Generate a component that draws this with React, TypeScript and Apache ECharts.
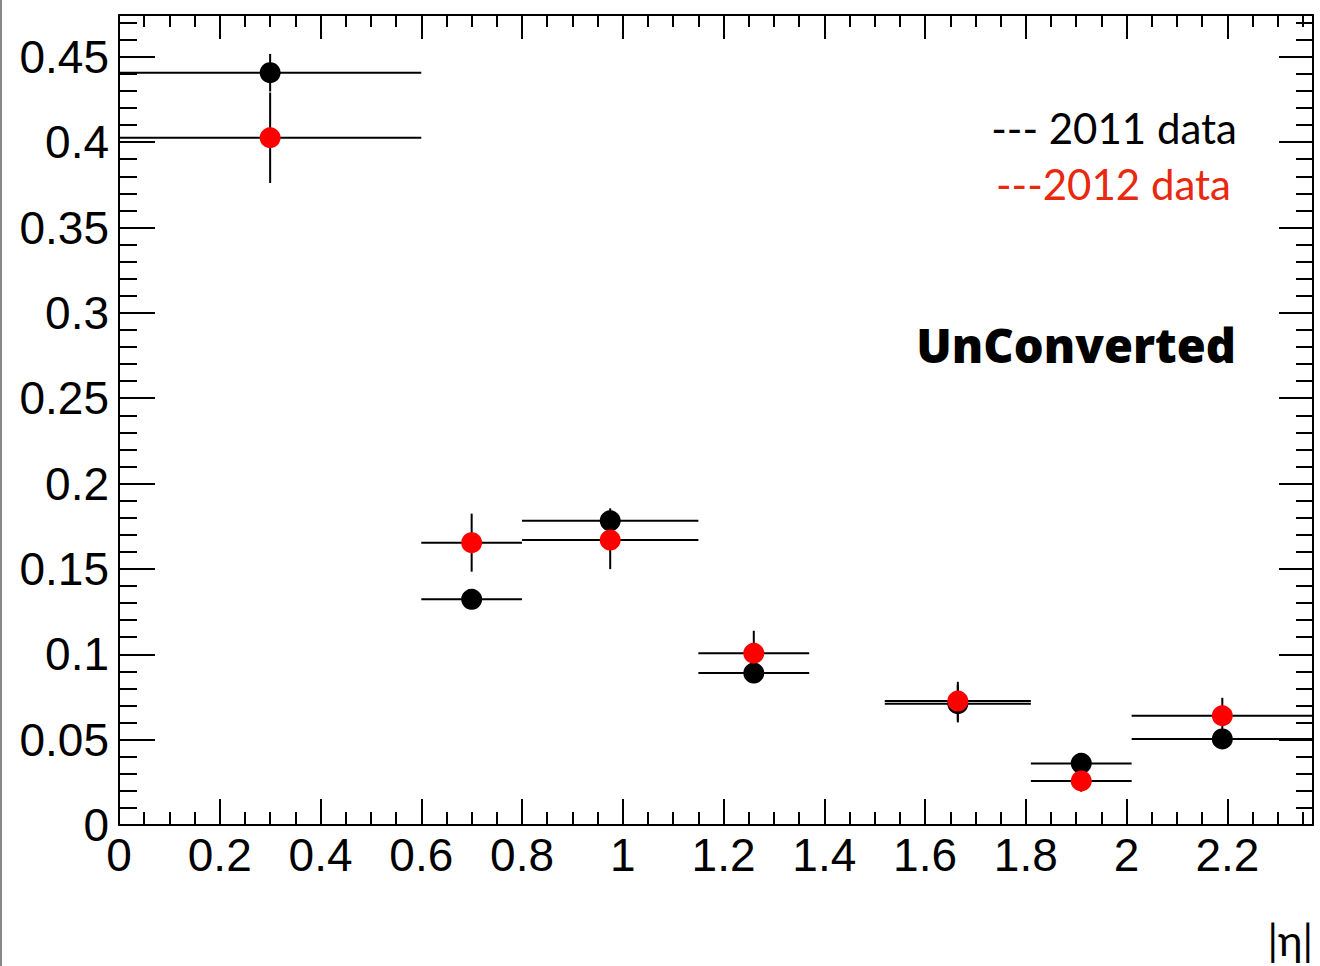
import React, { useEffect, useRef } from "react";
import * as echarts from "echarts";

// Bin edges and centres in |eta|
const binLow = [0, 0.6, 0.8, 1.15, 1.52, 1.81, 2.01];
const binHigh = [0.6, 0.8, 1.15, 1.37, 1.81, 2.01, 2.37];
const binCenter = [0.3, 0.7, 0.975, 1.26, 1.665, 1.91, 2.19];

// 2011 data (black)
const values2011 = [0.4407, 0.1322, 0.1782, 0.089, 0.0711, 0.0361, 0.0504];
const errors2011 = [0.011, 0.005, 0.0073, 0.005, 0.011, 0.005, 0.005];

// 2012 data (red)
const values2012 = [0.4026, 0.1654, 0.1669, 0.1006, 0.0726, 0.0258, 0.064];
const errors2012 = [0.0265, 0.017, 0.017, 0.0132, 0.0113, 0.0063, 0.0105];

const X_MIN = 0;
const X_MAX = 2.37;
const Y_MIN = 0;
const Y_MAX = 0.4745;

const legend2011 = "--- 2011 data";
const legend2012 = "---2012 data";
const tagText = "UnConverted";
const xTitle = "|η|";

const LABEL_FONT = "Liberation Sans";
const TEXT_FONT = "Lato";

function makeRows(values: number[], errors: number[]) {
  return values.map((v, i) => [binLow[i], binHigh[i], binCenter[i], v, errors[i]]);
}

function errSeries(name: string, values: number[], errors: number[], color: string) {
  return {
    name,
    type: "custom",
    xAxisIndex: 0,
    yAxisIndex: 0,
    data: makeRows(values, errors),
    encode: { x: [0, 1, 2], y: [3] },
    renderItem: (params: any, api: any) => {
      const xl = api.value(0);
      const xh = api.value(1);
      const xc = api.value(2);
      const y = api.value(3);
      const e = api.value(4);
      const p1 = api.coord([xl, y]);
      const p2 = api.coord([xh, y]);
      const pc = api.coord([xc, y]);
      const pt = api.coord([xc, y + e]);
      const pb = api.coord([xc, y - e]);
      return {
        type: "group",
        children: [
          {
            type: "line",
            shape: { x1: p1[0], y1: p1[1], x2: p2[0], y2: p2[1] },
            style: { stroke: "#000", lineWidth: 2 },
          },
          {
            type: "line",
            shape: { x1: pt[0], y1: pt[1], x2: pb[0], y2: pb[1] },
            style: { stroke: "#000", lineWidth: 2 },
          },
          {
            type: "circle",
            shape: { cx: pc[0], cy: pc[1], r: 10.5 },
            style: { fill: color },
          },
        ],
      };
    },
  };
}

function xAxisDef(position: string, interval: number, tickLen: number, showLine: boolean, showLabel: boolean) {
  return {
    type: "value",
    position,
    min: X_MIN,
    max: X_MAX,
    interval,
    axisLine: { show: showLine, onZero: false, lineStyle: { color: "#000", width: 2 } },
    axisTick: { show: true, inside: true, length: tickLen, lineStyle: { color: "#000", width: 2 } },
    axisLabel: {
      show: showLabel,
      showMaxLabel: false,
      fontSize: 46,
      fontFamily: LABEL_FONT,
      color: "#000",
      margin: 7,
    },
    splitLine: { show: false },
  };
}

function yAxisDef(position: string, interval: number, tickLen: number, showLine: boolean, showLabel: boolean) {
  return {
    type: "value",
    position,
    min: Y_MIN,
    max: Y_MAX,
    interval,
    axisLine: { show: showLine, onZero: false, lineStyle: { color: "#000", width: 2 } },
    axisTick: { show: true, inside: true, length: tickLen, lineStyle: { color: "#000", width: 2 } },
    axisLabel: {
      show: showLabel,
      showMaxLabel: false,
      fontSize: 46,
      fontFamily: LABEL_FONT,
      color: "#000",
      margin: 10,
    },
    splitLine: { show: false },
  };
}

export default function App() {
  const ref = useRef<HTMLDivElement>(null);
  useEffect(() => {
    if (!ref.current) return;
    const chart = echarts.init(ref.current, undefined, { renderer: "svg" });
    chart.setOption({
      animation: false,
      backgroundColor: "#fff",
      grid: { left: 119, top: 15, right: 7, bottom: 141, containLabel: false },
      xAxis: [
        xAxisDef("bottom", 0.2, 26, true, true),
        xAxisDef("bottom", 0.05, 13, false, false),
        xAxisDef("top", 0.2, 24, true, false),
        xAxisDef("top", 0.05, 12, false, false),
      ],
      yAxis: [
        yAxisDef("left", 0.05, 36, true, true),
        yAxisDef("left", 0.01, 18, false, false),
        yAxisDef("right", 0.05, 34, true, false),
        yAxisDef("right", 0.01, 17, false, false),
      ],
      series: [
        errSeries("2011 data", values2011, errors2011, "#000000"),
        errSeries("2012 data", values2012, errors2012, "#ff0000"),
      ],
      graphic: [
        {
          type: "line",
          shape: { x1: 1, y1: 0, x2: 1, y2: 966 },
          style: { stroke: "#888", lineWidth: 2 },
        },
        {
          type: "text",
          x: 1237,
          y: 128,
          style: {
            text: legend2011,
            fontSize: 42,
            fontFamily: TEXT_FONT,
            fill: "#000",
            align: "right",
            verticalAlign: "middle",
          },
        },
        {
          type: "text",
          x: 1231,
          y: 184,
          style: {
            text: legend2012,
            fontSize: 42,
            fontFamily: TEXT_FONT,
            fill: "#e8290f",
            align: "right",
            verticalAlign: "middle",
          },
        },
        {
          type: "text",
          x: 1236,
          y: 345,
          style: {
            text: tagText,
            fontSize: 47,
            fontWeight: 800,
            fontFamily: "Open Sans",
            fill: "#000",
            align: "right",
            verticalAlign: "middle",
          },
        },
        {
          type: "text",
          x: 1313,
          y: 940,
          style: {
            text: xTitle,
            fontSize: 42,
            fontFamily: TEXT_FONT,
            fill: "#000",
            align: "right",
            verticalAlign: "middle",
          },
        },
      ],
    });
    return () => chart.dispose();
  }, []);
  return (
    <div
      ref={ref}
      style={{ position: "absolute", left: 0, top: 0, width: 1320, height: 966 }}
    />
  );
}
